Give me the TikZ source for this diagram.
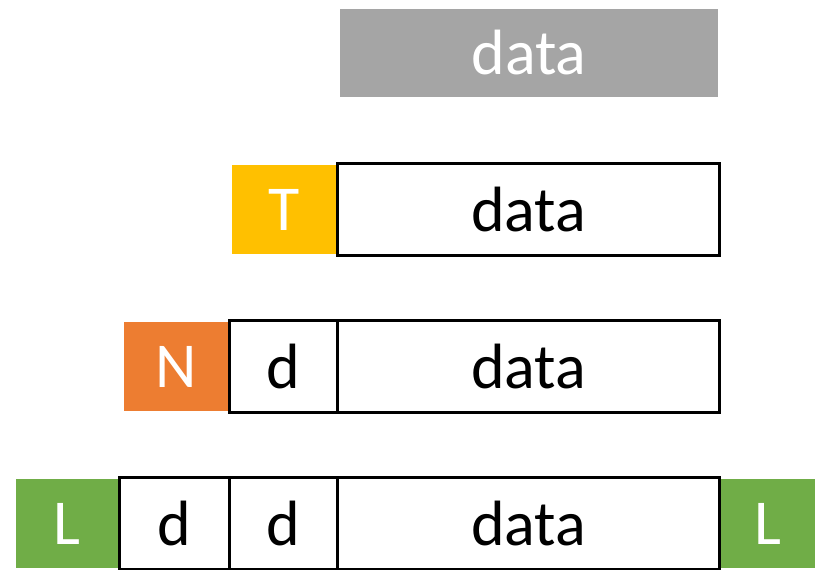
\documentclass[tikz,border=0pt]{standalone}
\usepackage{fontspec}
\setmainfont{Carlito}

\definecolor{hdrGray}{HTML}{A5A5A5}
\definecolor{tGold}{HTML}{FFC000}
\definecolor{nOrange}{HTML}{ED7D31}
\definecolor{lGreen}{HTML}{70AD47}

\tikzset{every picture/.style={line width=0.75pt}}
\tikzset{
	tag/.style={fill=#1, text=white, inner sep=0pt, outer sep=0pt, minimum height=66.75pt, font=\fontsize{48}{52}\selectfont},
	cell/.style={draw, line width=2.7pt, fill=white, inner sep=0pt, outer sep=0pt, minimum height=69pt, font=\fontsize{48}{52}\selectfont}
}

\begin{document}
\begin{tikzpicture}[x=0.75pt,y=0.75pt,yscale=-1,xscale=1]
	\useasboundingbox (0,0) rectangle (815,569);
	
	% plain data
	\node [tag=hdrGray, minimum width=283.5pt, minimum height=66pt] (plain) at (529,53) {data};
	
	% T + data
	\node [tag=tGold, minimum width=78.75pt] (tT) at (284.5,209.5) {T};
	\node [cell, minimum width=286.5pt] (dataT) at (528.5,209.5) {data};
	
	% N + d + data
	\node [tag=nOrange, minimum width=78.75pt] (nN) at (176.5,366.5) {N};
	\node [cell, minimum width=81pt] (dN) at (283.5,366.5) {d};
	\node [cell, minimum width=286.5pt] (dataN) at (528.5,366.5) {data};
	
	% L + d + d + data + L
	\node [tag=lGreen, minimum width=76.5pt] (lLeft) at (67,523.5) {L};
	\node [cell, minimum width=82.5pt] (dOne) at (174.5,523.5) {d};
	\node [cell, minimum width=81pt] (dTwo) at (283.5,523.5) {d};
	\node [cell, minimum width=286.5pt] (dataL) at (528.5,523.5) {data};
	\node [tag=lGreen, minimum width=70.5pt] (lRight) at (768,523.5) {L};
	
\end{tikzpicture}
\end{document}
